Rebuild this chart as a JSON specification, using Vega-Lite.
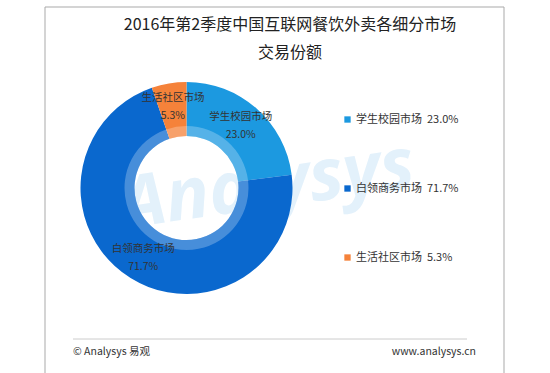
{
  "$schema": "https://vega.github.io/schema/vega-lite/v6.json",
  "width": 459,
  "height": 366,
  "autosize": {"type": "none"},
  "padding": {"left": 45, "top": 7, "right": 46, "bottom": 0},
  "background": "white",
  "config": {
    "view": {"stroke": null},
    "font": "Noto Sans CJK SC"
  },
  "title": {
    "text": ["2016年第2季度中国互联网餐饮外卖各细分市场", "交易份额"],
    "fontSize": 16,
    "fontWeight": "normal",
    "font": "Noto Sans CJK SC",
    "color": "#222222",
    "lineHeight": 28,
    "anchor": "middle",
    "frame": "group",
    "dx": 15.5,
    "orient": "top",
    "offset": -54
  },
  "data": {
    "values": [
      {"name": "学生校园市场", "pct": "23.0%", "legend": "学生校园市场\u00a0\u00a023.0%", "value": 23.0, "order": 1},
      {"name": "白领商务市场", "pct": "71.7%", "legend": "白领商务市场\u00a0\u00a071.7%", "value": 71.7, "order": 2},
      {"name": "生活社区市场", "pct": "5.3%", "legend": "生活社区市场\u00a0\u00a05.3%", "value": 5.3, "order": 3}
    ]
  },
  "layer": [
    {
      "data": {"values": [{"t": "Analysys"}]},
      "mark": {"type": "text", "align": "right", "baseline": "alphabetic", "fontSize": 72, "fontStyle": "italic", "fontWeight": "bold", "font": "Open Sans", "color": "#e3f1fb", "angle": -8},
      "encoding": {"x": {"value": 372}, "y": {"value": 180}, "text": {"field": "t"}}
    },
    {
      "data": {"values": [{}]},
      "mark": {"type": "rule", "color": "#a9a9a9", "strokeWidth": 1},
      "encoding": {"x": {"value": 0}, "y": {"value": 0}, "y2": {"value": 380}}
    },
    {
      "data": {"values": [{}]},
      "mark": {"type": "rule", "color": "#a9a9a9", "strokeWidth": 1},
      "encoding": {"x": {"value": 459}, "y": {"value": 0}, "y2": {"value": 380}}
    },
    {
      "data": {"values": [{}]},
      "mark": {"type": "rule", "color": "#a9a9a9", "strokeWidth": 1},
      "encoding": {"x": {"value": 0}, "x2": {"value": 459}, "y": {"value": 0}}
    },
    {
      "mark": {"type": "arc", "innerRadius": 52, "outerRadius": 106, "x": 141.5, "y": 181},
      "encoding": {
        "theta": {"field": "value", "type": "quantitative", "stack": true},
        "order": {"field": "order", "type": "quantitative"},
        "color": {
          "field": "legend",
          "type": "nominal",
          "sort": null,
          "scale": {
            "domain": ["学生校园市场\u00a0\u00a023.0%", "白领商务市场\u00a0\u00a071.7%", "生活社区市场\u00a0\u00a05.3%"],
            "range": ["#1c99e0", "#0a68ce", "#f5823a"]
          },
          "legend": {
            "orient": "none",
            "legendX": 297,
            "legendY": 107,
            "title": null,
            "symbolType": "square",
            "symbolSize": 40,
            "symbolStrokeWidth": 0,
            "labelFontSize": 11,
            "labelColor": "#333333",
            "labelFont": "Noto Sans CJK SC",
            "labelOffset": 3,
            "rowPadding": 57,
            "labelLimit": 200
          }
        }
      }
    },
    {
      "mark": {"type": "arc", "innerRadius": 52, "outerRadius": 62, "x": 141.5, "y": 181, "fill": "white", "opacity": 0.25},
      "encoding": {
        "theta": {"field": "value", "type": "quantitative", "stack": true},
        "order": {"field": "order", "type": "quantitative"}
      }
    },
    {
      "mark": {"type": "text", "radius": 82, "x": 141.5, "y": 181, "dy": -9, "fontSize": 10.5, "color": "#333333", "font": "Noto Sans CJK SC"},
      "encoding": {
        "theta": {"field": "value", "type": "quantitative", "stack": true},
        "order": {"field": "order", "type": "quantitative"},
        "text": {"field": "name"}
      }
    },
    {
      "mark": {"type": "text", "radius": 82, "x": 141.5, "y": 181, "dy": 9, "fontSize": 10.5, "color": "#333333", "font": "Noto Sans CJK SC"},
      "encoding": {
        "theta": {"field": "value", "type": "quantitative", "stack": true},
        "order": {"field": "order", "type": "quantitative"},
        "text": {"field": "pct"}
      }
    },
    {
      "data": {"values": [{}]},
      "mark": {"type": "rule", "color": "#cccccc", "strokeWidth": 1},
      "encoding": {"x": {"value": 28}, "x2": {"value": 422}, "y": {"value": 332}}
    },
    {
      "data": {"values": [{"t": "© Analysys 易观"}]},
      "mark": {"type": "text", "align": "left", "baseline": "middle", "fontSize": 10.5, "color": "#333333", "font": "Noto Sans CJK SC"},
      "encoding": {"x": {"value": 28}, "y": {"value": 345}, "text": {"field": "t"}}
    },
    {
      "data": {"values": [{"t": "www.analysys.cn"}]},
      "mark": {"type": "text", "align": "right", "baseline": "middle", "fontSize": 10.5, "color": "#333333", "font": "Noto Sans CJK SC"},
      "encoding": {"x": {"value": 431}, "y": {"value": 345}, "text": {"field": "t"}}
    }
  ]
}
